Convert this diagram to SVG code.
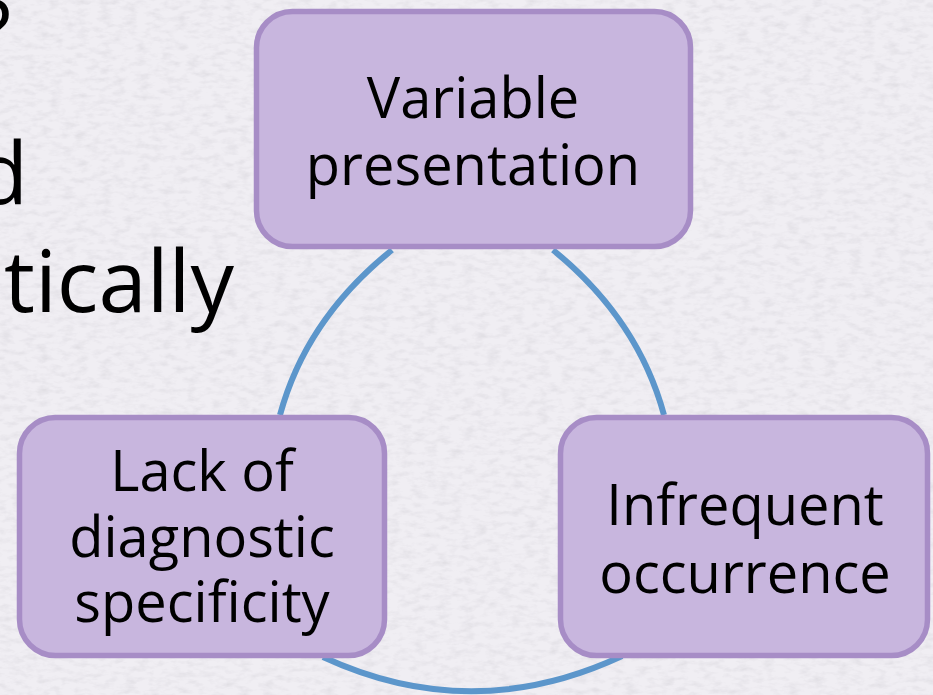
<svg xmlns="http://www.w3.org/2000/svg" width="933" height="695" viewBox="0 0 933 695">
  <defs>
    <filter id="paper" x="0" y="0" width="100%" height="100%">
      <feTurbulence type="fractalNoise" baseFrequency="0.08 0.18" numOctaves="3" seed="4" result="n"/>
      <feColorMatrix type="matrix" values="0 0 0 0 0.55  0 0 0 0 0.54  0 0 0 0 0.58  0 0 0 -2.2 1.25" in="n"/>
      <feComposite operator="in" in2="SourceGraphic"/>
    </filter>
  </defs>
  <style>
    .bg { fill: #f0eef3; }
    .box { fill: #c8b6de; stroke: #a78dc6; stroke-width: 5.5; }
    .lbl { font-family: "Open Sans", "Noto Sans", "DejaVu Sans", sans-serif; font-size: 56px; fill: #000000; text-anchor: middle; }
    .side { font-family: "Open Sans", "Noto Sans", "DejaVu Sans", sans-serif; font-size: 86px; fill: #000000; text-anchor: end; }
    .arc { fill: none; stroke: #5c96cb; stroke-width: 6; }
  </style>

  <rect class="bg" x="0" y="0" width="933" height="695"/>
  <rect x="0" y="0" width="933" height="695" fill="#ffffff" filter="url(#paper)" opacity="0.3"/>

  <g id="side-text">
    <text class="side" x="11" y="62">?</text>
    <text class="side" x="28" y="204">d</text>
    <text class="side" x="234" y="312" textLength="230" lengthAdjust="spacingAndGlyphs">tically</text>
  </g>

  <g id="connectors">
    <path class="arc" d="M392,250 Q306,319 280,415"/>
    <path class="arc" d="M553,250 Q638,319 664,415"/>
    <path class="arc" d="M323,657 Q472,726 622,656"/>
  </g>

  <g id="node-variable">
    <rect class="box" x="256.5" y="11.5" width="434" height="235" rx="36" ry="36"/>
    <text class="lbl"><tspan x="473" y="118">Variable</tspan><tspan x="473" y="185">presentation</tspan></text>
  </g>

  <g id="node-lack">
    <rect class="box" x="19.5" y="417.5" width="365" height="238" rx="36" ry="36"/>
    <text class="lbl"><tspan x="202" y="491">Lack of</tspan><tspan x="202" y="557">diagnostic</tspan><tspan x="202" y="622">specificity</tspan></text>
  </g>

  <g id="node-infrequent">
    <rect class="box" x="560.5" y="417.5" width="367" height="238" rx="36" ry="36"/>
    <text class="lbl"><tspan x="745" y="525">Infrequent</tspan><tspan x="745" y="593">occurrence</tspan></text>
  </g>
</svg>
